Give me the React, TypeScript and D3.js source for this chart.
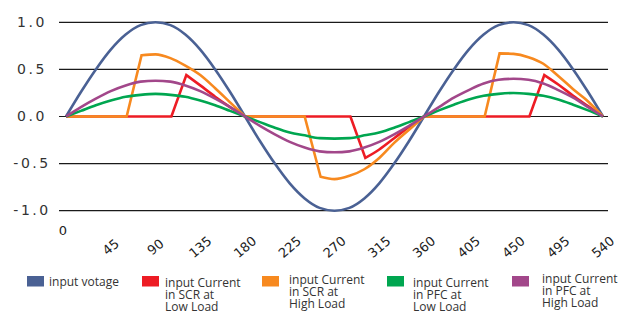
import React from 'react';
import * as d3 from 'd3';

// ---------- data ----------
const xTicks = [0, 45, 90, 135, 180, 225, 270, 315, 360, 405, 450, 495, 540];
const yTicks = [1.0, 0.5, 0.0, -0.5, -1.0];
const yTickLabels = ['1.0', '0.5', '0.0', '-0.5', '-1.0'];

const sampleAngles = [
  0, 15, 30, 45, 60, 75, 90, 105, 120, 135, 150, 165, 180,
  195, 210, 225, 240, 255, 270, 285, 300, 315, 330, 345, 360,
  375, 390, 405, 420, 435, 450, 465, 480, 495, 510, 525, 540,
];
const voltage = [
  0, 0.26, 0.5, 0.71, 0.87, 0.97, 1, 0.97, 0.87, 0.71, 0.5, 0.26, 0,
  -0.26, -0.5, -0.71, -0.87, -0.97, -1, -0.97, -0.87, -0.71, -0.5, -0.26, 0,
  0.26, 0.5, 0.71, 0.87, 0.97, 1, 0.97, 0.87, 0.71, 0.5, 0.26, 0,
];
const pfcLow = [
  0, 0.06, 0.12, 0.17, 0.21, 0.23, 0.24, 0.23, 0.21, 0.17, 0.12, 0.06, 0,
  -0.06, -0.12, -0.17, -0.2, -0.23, -0.235, -0.23, -0.2, -0.17, -0.12, -0.06, 0,
  0.065, 0.125, 0.18, 0.22, 0.24, 0.25, 0.24, 0.22, 0.18, 0.125, 0.065, 0,
];
const pfcHigh = [
  0, 0.1, 0.19, 0.27, 0.33, 0.37, 0.38, 0.37, 0.33, 0.27, 0.19, 0.1, 0,
  -0.1, -0.19, -0.27, -0.33, -0.37, -0.38, -0.37, -0.33, -0.27, -0.19, -0.1, 0,
  0.1, 0.2, 0.28, 0.35, 0.39, 0.4, 0.39, 0.35, 0.28, 0.2, 0.1, 0,
];
const scrLowAngles = [0, 106, 121, 135, 150, 165, 180, 286, 301, 315, 330, 345, 360, 466, 481, 495, 510, 525, 540];
const scrLow = [0, 0, 0.44, 0.33, 0.21, 0.1, 0, 0, -0.44, -0.35, -0.23, -0.11, 0, 0, 0.44, 0.34, 0.22, 0.11, 0];
const scrHighAngles = [
  0, 61, 76, 90, 105, 120, 135, 150, 165, 180,
  240, 256, 270, 285, 300, 315, 330, 345, 360,
  421, 436, 450, 465, 480, 495, 510, 525, 540,
];
const scrHigh = [
  0, 0, 0.65, 0.66, 0.62, 0.54, 0.44, 0.3, 0.15, 0,
  0, -0.64, -0.665, -0.63, -0.56, -0.44, -0.28, -0.14, 0,
  0, 0.67, 0.665, 0.63, 0.56, 0.43, 0.29, 0.16, 0,
];

const seriesNames = [
  ['input votage'],
  ['input Current', 'in SCR at', 'Low Load'],
  ['input Current', 'in SCR at', 'High Load'],
  ['input Current', 'in PFC at', 'Low Load'],
  ['input Current', 'in PFC at', 'High Load'],
];
const seriesColors = ['#4A6194', '#ED1C24', '#F7891F', '#00A650', '#A2478A'];

// ---------- layout ----------
const W = 637;
const H = 314;
const legendSquareX = [27, 142, 262, 387, 512];
const legendTextX = [49, 165, 289, 413, 542];
const legendBaseline = [286, 287, 284, 287, 283];

type Pt = [number, number];

export default function App() {
  const x = d3.scaleLinear().domain([0, 540]).range([66, 603]);
  const y = d3.scaleLinear().domain([-1, 1]).range([210.7, 22.3]);
  const mono = d3
    .line<Pt>()
    .x((d) => x(d[0]))
    .y((d) => y(d[1]))
    .curve(d3.curveMonotoneX);
  const lin = d3
    .line<Pt>()
    .x((d) => x(d[0]))
    .y((d) => y(d[1]));

  // switched waveforms: flat + jump parts are straight, the decay parts smooth
  const switchedPath = (pts: Pt[]) => {
    let d = '';
    const add = (s: string | null) => {
      if (!s) return;
      d += d === '' ? s : 'L' + s.slice(1);
    };
    let i = 0;
    while (i < pts.length - 1) {
      if (pts[i][1] === 0 && pts[i + 1][1] === 0) {
        add(lin([pts[i], pts[i + 1]]));
        i += 1;
      } else if (pts[i][1] === 0) {
        add(lin([pts[i], pts[i + 1]]));
        i += 1;
        let j = i;
        while (j < pts.length - 1 && pts[j][1] !== 0) j++;
        add(mono(pts.slice(i, j + 1)));
        i = j;
      } else {
        add(lin([pts[i], pts[i + 1]]));
        i += 1;
      }
    }
    return d;
  };

  const series: { pts: Pt[]; switched: boolean }[] = [
    { pts: sampleAngles.map((a, i) => [a, voltage[i]] as Pt), switched: false },
    { pts: scrLowAngles.map((a, i) => [a, scrLow[i]] as Pt), switched: true },
    { pts: scrHighAngles.map((a, i) => [a, scrHigh[i]] as Pt), switched: true },
    { pts: sampleAngles.map((a, i) => [a, pfcLow[i]] as Pt), switched: false },
    { pts: sampleAngles.map((a, i) => [a, pfcHigh[i]] as Pt), switched: false },
  ];

  return (
    <svg
      width={W}
      height={H}
      style={{ position: 'absolute', left: 0, top: 0, background: '#fff' }}
    >
      {yTicks.map((t, i) => (
        <g key={'y' + i}>
          <line x1={59} x2={608} y1={y(t)} y2={y(t)} stroke="#1a1a1a" strokeWidth={1.2} />
          <text
            x={32}
            y={y(t) + 4.5}
            textAnchor="middle"
            fontFamily="DejaVu Sans"
            fontSize={14}
            letterSpacing={2.5}
            fill="#333"
          >
            {yTickLabels[i]}
          </text>
        </g>
      ))}

      {xTicks.map((t, i) =>
        i === 0 ? (
          <text
            key={'x' + i}
            x={x(t) - 3}
            y={234.5}
            textAnchor="middle"
            fontFamily="DejaVu Sans"
            fontSize={13}
            fill="#222"
          >
            {String(t)}
          </text>
        ) : (
          <text
            key={'x' + i}
            transform={`translate(${x(t)},247) rotate(-40)`}
            textAnchor="middle"
            dy="0.35em"
            fontFamily="DejaVu Sans"
            fontSize={13}
            fill="#222"
          >
            {String(t)}
          </text>
        )
      )}

      {series.map((s, i) => (
        <path
          key={'s' + i}
          d={(s.switched ? switchedPath(s.pts) : mono(s.pts)) || ''}
          fill="none"
          stroke={seriesColors[i]}
          strokeWidth={2.6}
          strokeLinejoin="miter"
        />
      ))}

      {seriesNames.map((lines, i) => (
        <g key={'l' + i}>
          <rect x={legendSquareX[i]} y={276} width={17} height={10.5} fill={seriesColors[i]} />
          <text fontFamily="Open Sans" fontSize={12} fill="#333">
            {lines.map((ln, j) => (
              <tspan key={j} x={legendTextX[i]} y={legendBaseline[i] + j * 11.8}>
                {ln}
              </tspan>
            ))}
          </text>
        </g>
      ))}
    </svg>
  );
}
